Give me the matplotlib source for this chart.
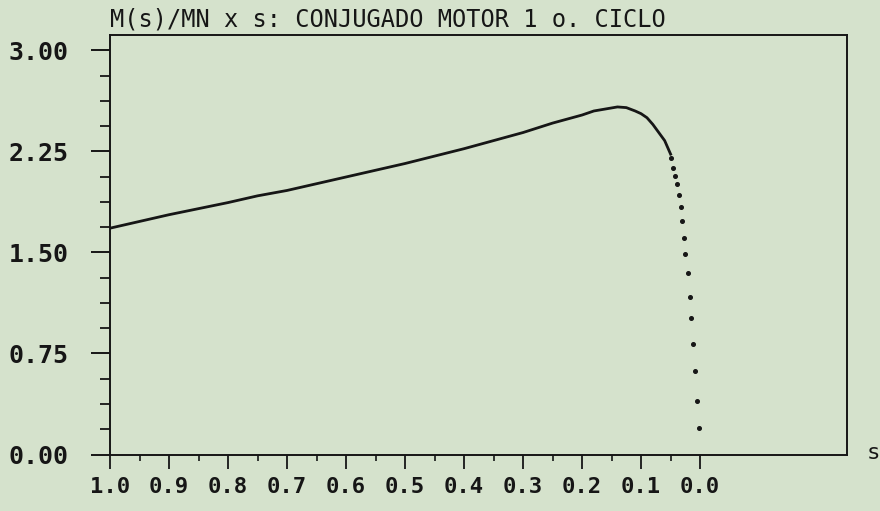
import matplotlib
matplotlib.use("Agg")
import matplotlib.pyplot as plt
from matplotlib.ticker import MultipleLocator

# ---- data ----
title = "M(s)/MN x s: CONJUGADO MOTOR 1 o. CICLO"

# dense (continuous-looking) part of the curve
s_line = [1.0, 0.9, 0.8, 0.75, 0.7, 0.6, 0.5, 0.4, 0.3, 0.25, 0.2, 0.18, 0.16,
          0.14, 0.125, 0.11, 0.10, 0.09, 0.08, 0.07, 0.06, 0.053, 0.049]
m_line = [1.68, 1.78, 1.87, 1.92, 1.96, 2.06, 2.16, 2.27, 2.39, 2.46, 2.52, 2.55, 2.565,
          2.58, 2.575, 2.55, 2.53, 2.50, 2.45, 2.39, 2.33, 2.26, 2.22]

# separated dots on the steep part
s_dots = [0.049, 0.046, 0.042, 0.039, 0.036, 0.032, 0.031, 0.027, 0.025,
          0.020, 0.017, 0.015, 0.012, 0.008, 0.005, 0.002]
m_dots = [2.20, 2.13, 2.07, 2.01, 1.93, 1.84, 1.73, 1.61, 1.49,
          1.35, 1.17, 1.01, 0.82, 0.62, 0.40, 0.20]

x_ticks = [1.0, 0.9, 0.8, 0.7, 0.6, 0.5, 0.4, 0.3, 0.2, 0.1, 0.0]
x_labels = ["1.0", "0.9", "0.8", "0.7", "0.6", "0.5", "0.4", "0.3", "0.2", "0.1", "0.0"]
y_ticks = [0.0, 0.75, 1.50, 2.25, 3.00]
y_labels = ["0.00", "0.75", "1.50", "2.25", "3.00"]

# ---- styling ----
bg = "#d5e2cc"
ink = "#161616"
mono = ["DejaVu Sans Mono"]

fig = plt.figure(figsize=(8.8, 5.11), dpi=100, facecolor=bg)
ax = fig.add_axes([110 / 880, 1 - 454.5 / 511, (847 - 110) / 880, (454.5 - 35) / 511])
ax.set_facecolor(bg)

ax.plot(s_line, m_line, color=ink, lw=2.0, solid_capstyle="butt", solid_joinstyle="round")
ax.plot(s_dots, m_dots, linestyle="none", marker="o", markersize=2.6, color=ink)

ax.set_xlim(1.0, -0.249)
ax.set_ylim(0.0, 3.114)

ax.set_xticks(x_ticks)
ax.set_xticklabels(x_labels, family=mono, fontsize=16, color=ink, fontweight="bold")
ax.set_yticks(y_ticks)
ax.set_yticklabels(y_labels, family=mono, fontsize=18, color=ink, fontweight="bold")
ax.xaxis.set_minor_locator(MultipleLocator(0.05))
ax.yaxis.set_minor_locator(MultipleLocator(0.1875))

ax.tick_params(axis="x", which="major", direction="out", length=10, width=1.3,
               colors=ink, pad=6)
ax.tick_params(axis="x", which="minor", direction="out", length=4, width=1.2, colors=ink)
ax.tick_params(axis="y", which="major", direction="out", length=14, width=1.4,
               colors=ink, pad=16)
ax.tick_params(axis="y", which="minor", direction="out", length=7, width=1.3, colors=ink)
# no minor ticks beyond 0.0 on x
for t, v in zip(ax.xaxis.get_minor_ticks(), ax.xaxis.get_minorticklocs()):
    if v < -0.01:
        t.tick1line.set_visible(False)

for sp in ax.spines.values():
    sp.set_color(ink)
    sp.set_linewidth(1.4)

fig.text(110 / 880, 1 - 19 / 511, title, family=mono, fontsize=17, color=ink,
         ha="left", va="center")
fig.text(873 / 880, 1 - 453 / 511, "s", family=mono, fontsize=16, color=ink,
         ha="center", va="center")

fig.savefig("out.png", dpi=100, facecolor=bg)
